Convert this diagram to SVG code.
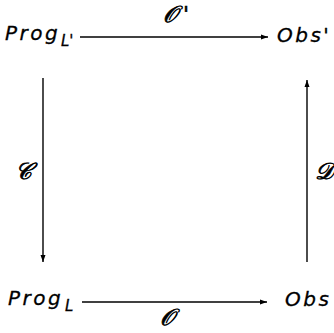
<svg xmlns="http://www.w3.org/2000/svg" width="334" height="333" viewBox="0 0 334 333">
<style>
.t{font-family:"DejaVu Sans","Liberation Sans",sans-serif;font-style:italic;fill:#000;stroke:#000;stroke-width:0.3;}
.n{font-size:20px;letter-spacing:2.5px;}
.s{font-size:15px;}
.c{font-family:"DejaVu Serif","Liberation Serif",serif;font-style:italic;font-size:23px;fill:#000;stroke:#000;stroke-width:0.8;}
.p{font-family:"DejaVu Sans",sans-serif;font-size:22px;fill:#000;stroke:#000;stroke-width:0.5;}
.e{stroke:#000;stroke-width:1.4;fill:none;}
</style>
<defs>
<marker id="ah" markerWidth="8" markerHeight="6" refX="7" refY="3" orient="auto" markerUnits="userSpaceOnUse">
<path d="M0,0.5 L7,3 L0,5.5 Z" fill="#000"/>
</marker>
</defs>
<rect width="334" height="333" fill="#fff"/>
<g id="connectors">
<line class="e" x1="80" y1="37" x2="268" y2="37" marker-end="url(#ah)"/>
<line class="e" x1="82" y1="302" x2="267" y2="302" marker-end="url(#ah)"/>
<line class="e" x1="43" y1="78" x2="43" y2="262" marker-end="url(#ah)"/>
<line class="e" x1="307" y1="262" x2="307" y2="80" marker-end="url(#ah)"/>
<text class="c" x="170" y="22" text-anchor="middle">𝒪</text>
<text class="p" x="183" y="22">'</text>
<text class="c" x="167" y="325" text-anchor="middle">𝒪</text>
<text class="c" x="23" y="179" text-anchor="middle">𝒞</text>
<text class="c" x="324" y="179" text-anchor="middle">𝒟</text>
</g>
<g id="progLp"><text class="t n" x="5" y="40">Prog</text><text class="t s" x="61" y="46">L'</text></g>
<g id="obsp"><text class="t n" x="277" y="42">Obs'</text></g>
<g id="progL"><text class="t n" x="8" y="305">Prog</text><text class="t s" x="65" y="311">L</text></g>
<g id="obs"><text class="t n" x="285" y="306">Obs</text></g>
</svg>
